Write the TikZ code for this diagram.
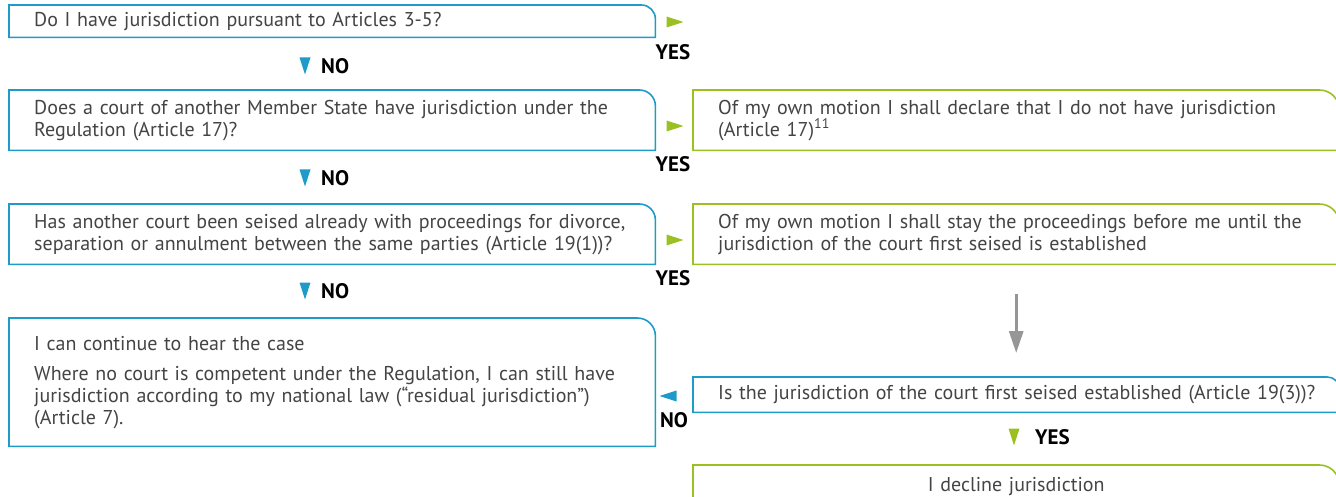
\documentclass[tikz,border=0pt]{standalone}
\usepackage{fontspec}
\setmainfont{PT Sans}
\usepackage{tikz}
\usetikzlibrary{positioning,calc,arrows.meta}
\definecolor{ecblue}{RGB}{30,155,200}
\definecolor{ecgreen}{RGB}{155,192,34}
\definecolor{ecgrey}{RGB}{150,150,150}
\definecolor{ectext}{RGB}{68,68,68}
% small filled triangle: position, direction, colour
\newcommand{\flowtri}[3]{\fill[#3, shift={(#1)}, rotate=#2] (8.5pt,0pt) -- (-8.5pt,5.5pt) -- (-8.5pt,-5.5pt) -- cycle;}

\begin{document}
\begin{tikzpicture}[
    x=1pt, y=-1pt,
    box/.style={anchor=north west, inner xsep=25pt, inner ysep=0pt, text width=596pt, minimum height=#1, align=left, text=ectext, font=\fontsize{20}{22}\selectfont},
    frame/.style={line width=1.6pt},
    yn/.style={font=\fontsize{21}{22}\selectfont\bfseries, text=black, inner sep=0pt},
    flow/.style={-{Triangle[width=14pt,length=22pt]}, line width=3pt, ecgrey, shorten <=30pt, shorten >=24pt}
]
    \useasboundingbox (0,0) rectangle (1336,497);

    % Questions (left column)
    \node[box=32pt] (q1) at (9,5) {Do I have jurisdiction pursuant to Articles 3-5?};
    \node[box=60pt] (q2) at (9,90) {Does a court of another Member State have jurisdiction under the\\ Regulation (Article 17)?};
    \node[box=60pt] (q3) at (9,204) {Has another court been seised already with proceedings for divorce,\\ separation or annulment between the same parties (Article 19(1))?};
    \node[box=128pt] (q4) at (9,318) {I can continue to hear the case\par\vspace{8pt}
        Where no court is competent under the Regulation, I can still have\\ jurisdiction according to my national law (“residual jurisdiction”)\\ (Article 7).};

    % Answers (right column)
    \node[box=60pt] (a1) at (693,90) {Of my own motion I shall declare that I do not have jurisdiction\\ (Article 17)\textsuperscript{11}};
    \node[box=60pt] (a2) at (693,204) {Of my own motion I shall stay the proceedings before me until the\\ jurisdiction of the court first seised is established};
    \node[box=35pt] (q5) at (693,377) {\mbox{Is the jurisdiction of the court first seised established (Article 19(3))?}};
    \node[box=42pt, align=center] (a3) at (693,465) {I decline jurisdiction};

    % Frames with one round corner
    \foreach \n/\c/\r in {q1/ecblue/14, q2/ecblue/16, q3/ecblue/16, q4/ecblue/18, q5/ecblue/12,
                          a1/ecgreen/20, a2/ecgreen/20, a3/ecgreen/20} {
        \draw[frame, \c] (\n.south west) -- (\n.north west) -- ([xshift=-\r pt]\n.north east)
            arc[start angle=90, end angle=0, radius=\r pt] -- (\n.south east) -- cycle;
    }

    % YES / NO marks
    \coordinate (t1) at (675,22);
    \coordinate (t2) at (675,126);
    \coordinate (t3) at (675,240);
    \coordinate (n1) at (305,66);
    \coordinate (n2) at (305,178);
    \coordinate (n3) at (305,291);
    \coordinate (n4) at (668,396);
    \coordinate (t4) at (1014,437);
    \foreach \c in {t1, t2, t3} { \flowtri{\c}{0}{ecgreen} }
    \foreach \c in {n1, n2, n3} { \flowtri{\c}{-90}{ecblue} }
    \flowtri{n4}{180}{ecblue}
    \flowtri{t4}{-90}{ecgreen}

    \node[yn] (yes1) at (673,52) {YES};
    \node[yn] (yes2) at (673,164) {YES};
    \node[yn] (yes3) at (673,278) {YES};
    \node[yn, right=16pt of n1] (no1) {NO};
    \node[yn, right=16pt of n2] (no2) {NO};
    \node[yn, right=16pt of n3] (no3) {NO};
    \node[yn] (no4) at (674,420) {NO};
    \node[yn, right=21pt of t4] (yes4) {YES};

    % stay -> check
    \draw[flow] (a2) -- (q5);
\end{tikzpicture}
\end{document}
